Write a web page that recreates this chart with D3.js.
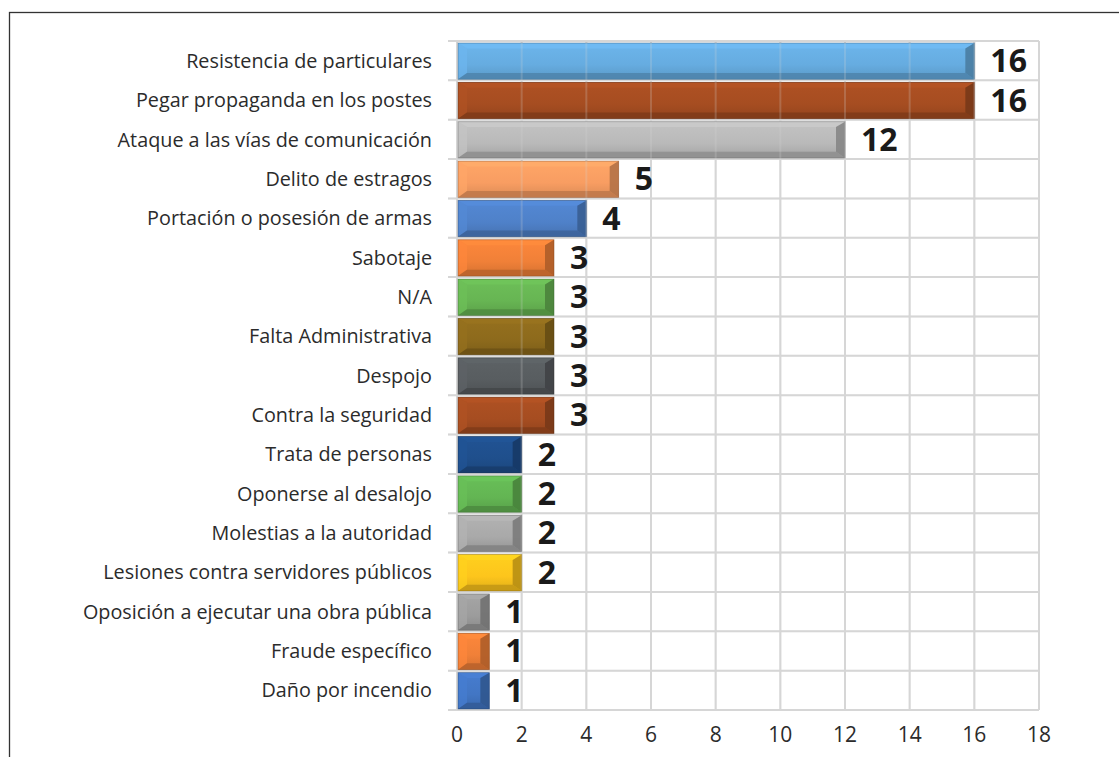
<!DOCTYPE html>
<html>
<head>
  <meta charset="utf-8">
  <title>Delitos imputados</title>
  <script src="https://d3js.org/d3.v7.min.js"></script>
  <style>
    body { margin: 0; background: #fff; }
    svg { display: block; }
  </style>
</head>
<body>
  <div id="chart"></div>
  <script>
    // datos
    const categorias = [
      'Resistencia de particulares',
      'Pegar propaganda en los postes',
      'Ataque a las vías de comunicación',
      'Delito de estragos',
      'Portación o posesión de armas',
      'Sabotaje',
      'N/A',
      'Falta Administrativa',
      'Despojo',
      'Contra la seguridad',
      'Trata de personas',
      'Oponerse al desalojo',
      'Molestias a la autoridad',
      'Lesiones contra servidores públicos',
      'Oposición a ejecutar una obra pública',
      'Fraude específico',
      'Daño por incendio'
    ];
    const valores = [16, 16, 12, 5, 4, 3, 3, 3, 3, 3, 2, 2, 2, 2, 1, 1, 1];
    const colores = [
      '#66ace0', '#a64d21', '#b9b9b9', '#f89d62', '#4f81c9',
      '#f08038', '#67b553', '#8d6a1c', '#585d60', '#a64d21',
      '#1f4f8c', '#63b553', '#a9a9a9', '#fdc51c', '#9c9c9c',
      '#f08038', '#4276c4'
    ];
    const ticks = [0, 2, 4, 6, 8, 10, 12, 14, 16, 18];

    const W = 1119, H = 757;
    const m = { left: 457, right: 1039, top: 41, bottom: 710 };

    const svg = d3.select('#chart').append('svg')
      .attr('width', W).attr('height', H);
    const defs = svg.append('defs');

    // marco
    svg.append('rect')
      .attr('x', 9.5).attr('y', 12.5)
      .attr('width', W + 20).attr('height', H + 20)
      .attr('fill', 'none').attr('stroke', '#333').attr('stroke-width', 1.3);

    const x = d3.scaleLinear().domain([0, 18]).range([m.left, m.right]);
    const y = d3.scaleBand().domain(categorias).range([m.top, m.bottom]);

    function drawGrid(g, op) {
      g.selectAll('.v').data(ticks).join('line')
        .attr('x1', d => x(d)).attr('x2', d => x(d))
        .attr('y1', m.top).attr('y2', m.bottom)
        .attr('stroke', '#d6d6d6').attr('stroke-width', 2).attr('opacity', op);
      const bounds = categorias.map(c => y(c)).concat([m.bottom]);
      g.selectAll('.h').data(bounds).join('line')
        .attr('x1', m.left - 9).attr('x2', m.right)
        .attr('y1', d => d).attr('y2', d => d)
        .attr('stroke', '#d6d6d6').attr('stroke-width', 2).attr('opacity', op);
    }
    drawGrid(svg.append('g'), 1);

    // barras con bisel
    const bars = svg.append('g');
    categorias.forEach((c, i) => {
      const x0 = x(0) + 1, x1 = x(valores[i]);
      const y0 = y(c) + 2, y1 = y(c) + y.bandwidth() - 1;
      const b = Math.min(9, (x1 - x0) / 2 - 2, (y1 - y0) / 2 - 2);
      const col = d3.color(colores[i]);

      const gid = 'grad' + i;
      const gr = defs.append('linearGradient').attr('id', gid)
        .attr('x1', 0).attr('y1', 0).attr('x2', 0).attr('y2', 1);
      gr.append('stop').attr('offset', 0).attr('stop-color', col.brighter(0.15));
      gr.append('stop').attr('offset', 0.6).attr('stop-color', col);
      gr.append('stop').attr('offset', 1).attr('stop-color', col.darker(0.35));

      const g = bars.append('g');
      g.append('rect')
        .attr('x', x0).attr('y', y0)
        .attr('width', x1 - x0).attr('height', y1 - y0)
        .attr('fill', `url(#${gid})`);
      const caras = [
        { p: [[x0, y0], [x1, y0], [x1 - b, y0 + b * 0.6], [x0 + b, y0 + b * 0.6]], c: col.brighter(0.25), o: 0.8 },
        { p: [[x0, y0], [x0 + b, y0 + b * 0.6], [x0 + b, y1 - b * 0.7], [x0, y1]], c: col.brighter(0.18), o: 0.7 },
        { p: [[x0, y1], [x0 + b, y1 - b * 0.7], [x1 - b, y1 - b * 0.7], [x1, y1]], c: col.darker(0.75), o: 0.85 },
        { p: [[x1, y0], [x1, y1], [x1 - b, y1 - b * 0.7], [x1 - b, y0 + b * 0.6]], c: col.darker(0.9), o: 0.9 }
      ];
      g.selectAll('polygon').data(caras).join('polygon')
        .attr('points', d => d.p.map(q => q.join(',')).join(' '))
        .attr('fill', d => d.c).attr('opacity', d => d.o);
      g.append('rect')
        .attr('x', x0).attr('y', y0)
        .attr('width', x1 - x0).attr('height', y1 - y0)
        .attr('fill', 'none').attr('stroke', col.darker(1.6)).attr('stroke-width', 0.8)
        .attr('opacity', 0.6);
    });

    // la reticula se transparenta sobre las barras
    drawGrid(svg.append('g'), 0.22);

    // etiquetas de categoria
    svg.append('g').selectAll('text').data(categorias).join('text')
      .attr('x', 432)
      .attr('y', d => y(d) + y.bandwidth() / 2)
      .attr('dy', '0.36em')
      .attr('text-anchor', 'end')
      .attr('font-family', 'Open Sans, sans-serif')
      .attr('font-size', 19.8)
      .attr('fill', '#2b2b2b')
      .text(d => d);

    // valores
    svg.append('g').selectAll('text').data(valores).join('text')
      .attr('x', d => x(d) + 16)
      .attr('y', (d, i) => y(categorias[i]) + y.bandwidth() / 2)
      .attr('dy', '0.36em')
      .attr('font-family', 'Open Sans, sans-serif')
      .attr('font-weight', 700)
      .attr('font-size', 32)
      .attr('fill', '#1a1a1a')
      .text(d => d);

    // eje x
    svg.append('g').selectAll('text').data(ticks).join('text')
      .attr('x', d => x(d))
      .attr('y', 742)
      .attr('text-anchor', 'middle')
      .attr('font-family', 'Open Sans, sans-serif')
      .attr('font-size', 21)
      .attr('fill', '#2b2b2b')
      .text(d => d);
  </script>
</body>
</html>
